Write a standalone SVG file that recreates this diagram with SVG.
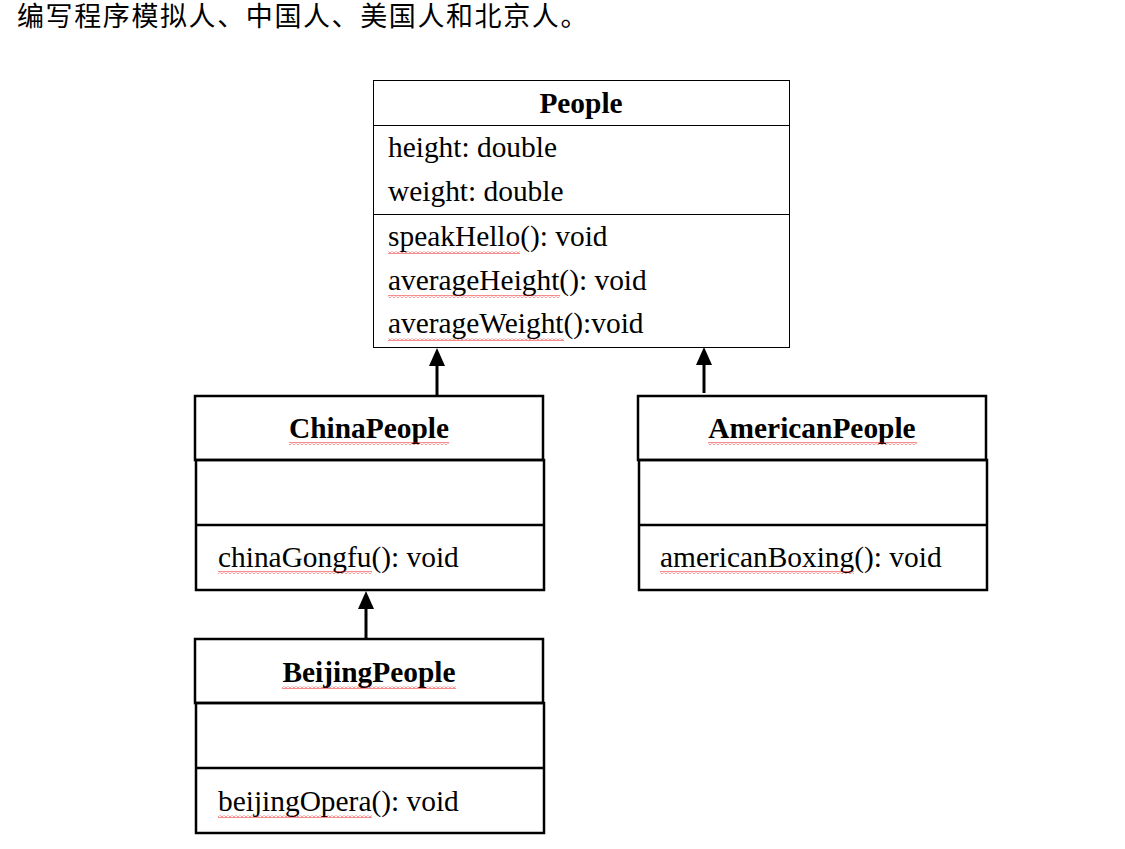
<svg xmlns="http://www.w3.org/2000/svg" width="1125" height="849" viewBox="0 0 1125 849">
<style>
.box{fill:none;stroke:#000;stroke-width:2.5}
.thin{fill:none;stroke:#000;stroke-width:1}
.t{font-family:"Liberation Serif","Times New Roman",serif;font-size:29.4px;fill:#000}
.b{font-weight:bold;text-anchor:middle}
.cjk{font-family:"Noto Sans CJK SC",sans-serif;font-size:27px;letter-spacing:1.6px;fill:#000}
.edge{stroke:#000;stroke-width:3;fill:none}
.sq{fill:url(#squig)}
</style>
<defs>
<pattern id="squig" width="4" height="3" patternUnits="userSpaceOnUse">
<path d="M0 2.5 L2 0.5 L4 2.5" stroke="#e00" stroke-width="0.9" fill="none"/>
</pattern>
</defs>
<rect width="1125" height="849" fill="#fff"/>
<text class="cjk" x="17" y="26">编写程序模拟人、中国人、美国人和北京人。</text>

<g id="connectors">
<line class="edge" x1="437" y1="395" x2="437" y2="365"/>
<path d="M437 348 L445 366 L429 366 Z" fill="#000"/>
<line class="edge" x1="704" y1="393" x2="704" y2="364"/>
<path d="M704 347 L712 365 L696 365 Z" fill="#000"/>
<line class="edge" x1="366" y1="638" x2="366" y2="609"/>
<path d="M366 591 L374 609 L358 609 Z" fill="#000"/>
</g>

<g id="People">
<rect class="thin" x="373.5" y="80.5" width="416" height="267"/>
<line class="thin" x1="373" y1="125.5" x2="790" y2="125.5"/>
<line class="thin" x1="373" y1="214.5" x2="790" y2="214.5"/>
<text class="t b" x="581" y="113">People</text>
<text class="t" x="388" y="157">height: double</text>
<text class="t" x="388" y="201">weight: double</text>
<text class="t" x="388" y="246">speakHello(): void</text>
<text class="t" x="388" y="290">averageHeight(): void</text>
<text class="t" x="388" y="333">averageWeight():void</text>
<rect class="sq" x="388" y="251" width="132" height="3"/>
<rect class="sq" x="388" y="295" width="172" height="3"/>
<rect class="sq" x="388" y="338" width="176" height="3"/>
</g>

<g id="ChinaPeople">
<rect class="box" x="195" y="396" width="348" height="64"/>
<rect class="box" x="196" y="460" width="348" height="130"/>
<line class="box" x1="196" y1="525" x2="544" y2="525"/>
<text class="t b" x="369" y="438">ChinaPeople</text>
<text class="t" x="218" y="567">chinaGongfu(): void</text>
<rect class="sq" x="289" y="442" width="160" height="3"/>
<rect class="sq" x="218" y="571" width="154" height="3"/>
</g>

<g id="AmericanPeople">
<rect class="box" x="638" y="396" width="348" height="64"/>
<rect class="box" x="639" y="460" width="348" height="130"/>
<line class="box" x1="639" y1="525" x2="987" y2="525"/>
<text class="t b" x="812" y="438">AmericanPeople</text>
<text class="t" x="660" y="567">americanBoxing(): void</text>
<rect class="sq" x="708" y="442" width="209" height="3"/>
<rect class="sq" x="660" y="571" width="194" height="3"/>
</g>

<g id="BeijingPeople">
<rect class="box" x="195" y="639" width="348" height="64"/>
<rect class="box" x="196" y="703" width="348" height="130"/>
<line class="box" x1="196" y1="768" x2="544" y2="768"/>
<text class="t b" x="369" y="682">BeijingPeople</text>
<text class="t" x="218" y="811">beijingOpera(): void</text>
<rect class="sq" x="282" y="686" width="174" height="3"/>
<rect class="sq" x="218" y="815" width="154" height="3"/>
</g>
</svg>
